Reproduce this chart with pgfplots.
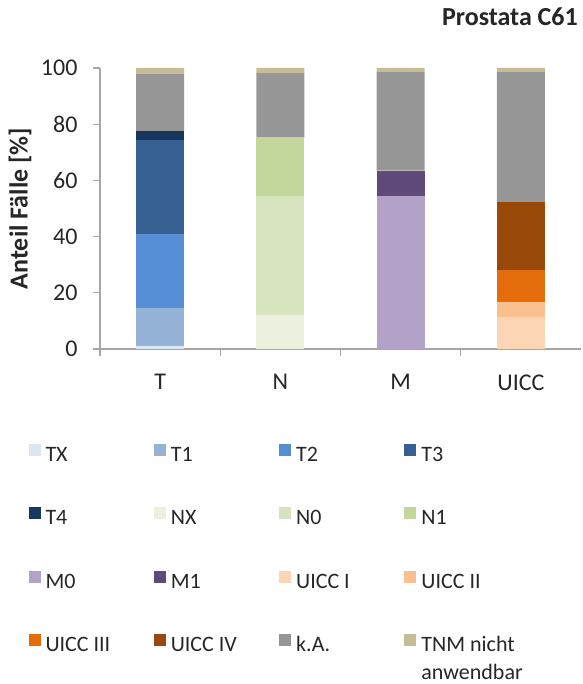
\documentclass[border=0pt]{standalone}
\usepackage{pgfplots}
\pgfplotsset{compat=1.18}
\usepackage{fontspec}
\setmainfont{Carlito}
\definecolor{cTX}{HTML}{DCE6F2}
\definecolor{cT1}{HTML}{95B3D7}
\definecolor{cT2}{HTML}{558ED5}
\definecolor{cT3}{HTML}{376092}
\definecolor{cT4}{HTML}{17375E}
\definecolor{cNX}{HTML}{EBF1DE}
\definecolor{cN0}{HTML}{D7E4BD}
\definecolor{cN1}{HTML}{C3D69B}
\definecolor{cM0}{HTML}{B3A2C7}
\definecolor{cM1}{HTML}{604A7B}
\definecolor{cU1}{HTML}{FCD5B5}
\definecolor{cU2}{HTML}{FAC090}
\definecolor{cU3}{HTML}{E46C0A}
\definecolor{cU4}{HTML}{984807}
\definecolor{cKA}{HTML}{969696}
\definecolor{cTNM}{HTML}{C4BD97}
\definecolor{axgray}{HTML}{A6A6A6}
\definecolor{txt}{HTML}{262626}
\newcommand\LE[1]{\makebox[100pt][l]{#1}}
\pgfplotsset{sq/.style={draw=none, fill=#1,
  legend image code/.code={\fill[#1] (0pt,0pt) rectangle (12pt,12pt);}}}
\begin{document}
\begin{tikzpicture}
\path[use as bounding box] (-100pt,-335pt) rectangle (482pt,349pt);
\begin{axis}[
  at={(0pt,0pt)}, anchor=south west,
  scale only axis, width=481pt, height=281pt,
  xmin=-0.5, xmax=3.5, ymin=0, ymax=100,
  ybar stacked, bar width=48pt,
  axis x line*=bottom, axis y line*=left,
  axis line style={axgray, line width=1.2pt, -},
  ytick={0,20,...,100},
  xtick={-0.5,0.5,1.5,2.5}, xticklabels={},
  extra x ticks={0,1,2,3}, extra x tick labels={T,N,M,UICC},
  extra x tick style={tick style={draw=none}, tick label style={yshift=-15pt}},
  tick align=outside, major tick length=7pt,
  tick style={axgray, line width=1.2pt},
  /pgf/number format/assume math mode=true,
  tick label style={font=\fontsize{24}{28}\selectfont, text=txt},
  yticklabel style={xshift=-12pt},
  ylabel={Anteil Fälle [\%]},
  ylabel style={font=\bfseries\fontsize{26}{30}\selectfont, text=txt, at={(axis description cs:-0.166,0.5)}, anchor=center},
  title={Prostata C61},
  title style={at={(axis description cs:1,1)}, anchor=base east, xshift=-3pt, yshift=36pt, font=\bfseries\fontsize{26}{30}\selectfont, text=txt, inner sep=0pt},
  legend columns=4,
  legend style={at={(axis description cs:-0.149,-0.337)}, anchor=north west, draw=none, fill=none, inner sep=0pt,
    font=\fontsize{22}{28}\selectfont, text=txt, column sep=5pt, row sep=41pt,
    nodes={inner sep=0pt, text height=16pt, text depth=5pt},
    /tikz/every even column/.append style={column sep=8.3pt}},
]
\addplot[sq=cTX] coordinates {(0,1.2) (1,0) (2,0) (3,0)}; \addlegendentry{\LE{TX}}
\addplot[sq=cT1] coordinates {(0,13.4) (1,0) (2,0) (3,0)}; \addlegendentry{\LE{T1}}
\addplot[sq=cT2] coordinates {(0,26.3) (1,0) (2,0) (3,0)}; \addlegendentry{\LE{T2}}
\addplot[sq=cT3] coordinates {(0,33.4) (1,0) (2,0) (3,0)}; \addlegendentry{\LE{T3}}
\addplot[sq=cT4] coordinates {(0,3.3) (1,0) (2,0) (3,0)}; \addlegendentry{\LE{T4}}
\addplot[sq=cNX] coordinates {(0,0) (1,12.2) (2,0) (3,0)}; \addlegendentry{\LE{NX}}
\addplot[sq=cN0] coordinates {(0,0) (1,42.4) (2,0) (3,0)}; \addlegendentry{\LE{N0}}
\addplot[sq=cN1] coordinates {(0,0) (1,20.7) (2,0) (3,0)}; \addlegendentry{\LE{N1}}
\addplot[sq=cM0] coordinates {(0,0) (1,0) (2,54.3) (3,0)}; \addlegendentry{\LE{M0}}
\addplot[sq=cM1] coordinates {(0,0) (1,0) (2,9.2) (3,0)}; \addlegendentry{\LE{M1}}
\addplot[sq=cU1] coordinates {(0,0) (1,0) (2,0) (3,11.5)}; \addlegendentry{\LE{UICC I}}
\addplot[sq=cU2] coordinates {(0,0) (1,0) (2,0) (3,5.3)}; \addlegendentry{\LE{UICC II}}
\addplot[sq=cU3] coordinates {(0,0) (1,0) (2,0) (3,11.3)}; \addlegendentry{\LE{UICC III}}
\addplot[sq=cU4] coordinates {(0,0) (1,0) (2,0) (3,24.1)}; \addlegendentry{\LE{UICC IV}}
\addplot[sq=cKA] coordinates {(0,20.4) (1,22.9) (2,35.0) (3,46.3)}; \addlegendentry{\LE{k.A.}}
\addplot[sq=cTNM] coordinates {(0,2.0) (1,1.8) (2,1.5) (3,1.5)}; \addlegendentry{\LE{\smash{\parbox[t]{100pt}{TNM nicht\\anwendbar}}}}
\end{axis}
\end{tikzpicture}
\end{document}
